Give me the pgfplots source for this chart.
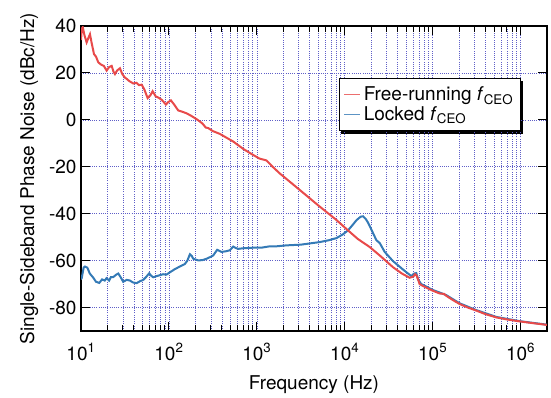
\documentclass[border=0pt]{standalone}
\usepackage{fontspec}
\setmainfont{TeX Gyre Heros}
\usepackage{pgfplots}
\usepackage{pgfplotstable}
\pgfplotsset{compat=1.18}
\usetikzlibrary{backgrounds}
\definecolor{fredred}{RGB}{232,74,74}
\definecolor{lockblue}{RGB}{52,122,182}
\definecolor{gridblue}{RGB}{95,95,200}

\pgfplotstableread{
lf dB
1.000 34
1.010 39
1.020 39.5
1.040 36
1.064 33
1.085 35
1.102 36.5
1.120 33
1.148 28
1.170 27
1.197 24.5
1.230 23.5
1.260 23
1.292 21
1.320 22.5
1.349 23
1.370 20.5
1.386 19.5
1.410 21
1.443 22
1.470 19.5
1.500 18
1.519 17.5
1.550 16.5
1.595 15.5
1.630 15.8
1.660 14.8
1.690 15
1.720 13
1.758 9.3
1.790 10.5
1.815 12.2
1.850 10
1.880 9.5
1.920 8.5
1.966 6.5
1.990 7.5
2.023 8.3
2.060 6.5
2.106 4.0
2.150 3.5
2.200 2.8
2.250 1.8
2.315 0.3
2.380 -1.5
2.420 -3.3
2.447 -3.5
2.500 -4.8
2.580 -6
2.650 -7.5
2.730 -9.2
2.850 -12.5
2.960 -15
3.030 -16.5
3.110 -17.3
3.180 -20
3.260 -22.8
3.489 -29.9
3.700 -36.5
3.900 -42.5
4.037 -47.1
4.150 -50.8
4.284 -54.2
4.398 -57.8
4.549 -62.8
4.650 -65.5
4.739 -67.3
4.780 -66.8
4.800 -65.8
4.820 -66.5
4.852 -70
4.900 -71
4.966 -72.2
5.000 -72.8
5.080 -74.0
5.130 -74.2
5.155 -75
5.230 -76.8
5.307 -78.5
5.400 -80
5.497 -81.3
5.600 -82.8
5.724 -84.2
5.850 -85.1
5.990 -85.9
6.150 -86.7
6.300 -87.4
}\freerun

\pgfplotstableread{
lf dB
1.000 -68
1.008 -67.5
1.030 -63
1.045 -62.5
1.072 -63
1.100 -65.5
1.140 -67.3
1.170 -69
1.208 -69.5
1.240 -68
1.270 -68.5
1.290 -67.5
1.320 -68.5
1.340 -67
1.367 -67
1.400 -66
1.424 -65.5
1.450 -67
1.480 -69
1.520 -68.2
1.557 -68.5
1.590 -69.3
1.633 -69.6
1.670 -68.8
1.708 -68.2
1.740 -67
1.776 -65.4
1.800 -66.5
1.822 -67.1
1.870 -66.5
1.935 -65.8
1.970 -66
2.011 -65
2.060 -63.8
2.125 -62.5
2.180 -61.5
2.210 -60
2.239 -57.3
2.260 -58
2.277 -59.2
2.333 -59.9
2.380 -59.8
2.428 -59.2
2.480 -58.3
2.504 -57.8
2.549 -55.4
2.599 -56.3
2.650 -56
2.693 -55.6
2.731 -54
2.760 -54.6
2.788 -55
2.850 -54.7
2.958 -54.5
3.050 -54.5
3.148 -53.9
3.224 -53.9
3.337 -53.5
3.500 -53.2
3.716 -52.1
3.820 -51.3
3.906 -50.4
3.980 -48.8
4.037 -47.1
4.090 -44.8
4.133 -42.8
4.180 -41.3
4.208 -41.1
4.240 -42.3
4.265 -43.8
4.300 -46.5
4.360 -51.3
4.398 -52.5
4.455 -56.3
4.549 -60.2
4.663 -63.8
4.700 -64.9
4.758 -66.6
4.790 -65.5
4.814 -65.3
4.835 -68
4.870 -70
4.940 -71.3
5.000 -72.5
5.080 -73.6
5.155 -74.7
5.307 -78.2
5.497 -81.1
5.724 -84.0
5.990 -85.8
6.300 -87.3
}\locked

\begin{document}
\begin{tikzpicture}[font=\fontsize{19bp}{22.8bp}\selectfont]
\begin{axis}[
  scale only axis,
  width=466bp, height=305bp,
  xmode=log,
  xmin=10, xmax=2e6,
  ymin=-90, ymax=40,
  xtick={10,100,1000,10000,100000,1000000},
  xticklabels={10\textsuperscript{1},10\textsuperscript{2},10\textsuperscript{3},10\textsuperscript{4},10\textsuperscript{5},10\textsuperscript{6}},
  minor xtick={20,30,40,50,60,70,80,90,200,300,400,500,600,700,800,900,2000,3000,4000,5000,6000,7000,8000,9000,20000,30000,40000,50000,60000,70000,80000,90000,200000,300000,400000,500000,600000,700000,800000,900000},
  ytick={-80,-60,-40,-20,0,20,40},
  yticklabels={-80,-60,-40,-20,0,20,40},
  xtick pos=both, ytick pos=both,
  tick align=inside,
  major tick length=9bp, minor tick length=6bp,
  every tick/.style={black, line width=0.9bp},
  axis line style={line width=1.1bp},
  xmajorgrids, xminorgrids, ymajorgrids,
  major grid style={gridblue, line width=0.6bp, dash pattern=on 1bp off 1.2bp},
  minor grid style={gridblue, line width=0.6bp, dash pattern=on 1bp off 1.2bp},
  xticklabel style={yshift=-9bp},
  yticklabel style={xshift=-1bp},
  xlabel={Frequency (Hz)},
  ylabel={Single-Sideband Phase Noise (dBc/Hz)},
  xlabel style={yshift=-8bp},
  ylabel style={yshift=4bp},
  reverse legend,
  legend style={name=leg, at={(0.9436,0.8295)}, anchor=north east, draw=black, line width=1.1bp, fill=white,
    font=\fontsize{19bp}{22.8bp}\selectfont, row sep=1.5bp, inner xsep=4bp, inner ysep=7bp,
    nodes={inner ysep=1.5bp, inner xsep=3bp},
    legend cell align=left},
  legend image code/.code={\draw[#1, line width=1.3bp, opacity=0.8] (0bp,0bp) -- (16bp,0bp);},
]
\addplot[lockblue, line width=2bp] table[x expr={10^(\thisrow{lf})}, y=dB] {\locked};
\addlegendentry{Locked \textit{f}\textsubscript{CEO}}
\addplot[fredred, line width=2bp] table[x expr={10^(\thisrow{lf})}, y=dB] {\freerun};
\addlegendentry{Free-running \textit{f}\textsubscript{CEO}}
\end{axis}
\begin{scope}[on background layer]
\fill[black] ([shift={(2.5bp,-2.5bp)}]leg.south west) rectangle ([shift={(2.5bp,-2.5bp)}]leg.north east);
\end{scope}
\pgfresetboundingbox
\path[use as bounding box] (current axis.south west) ++(-81bp,-67bp) rectangle ++(551bp,398bp);
\end{tikzpicture}
\end{document}
